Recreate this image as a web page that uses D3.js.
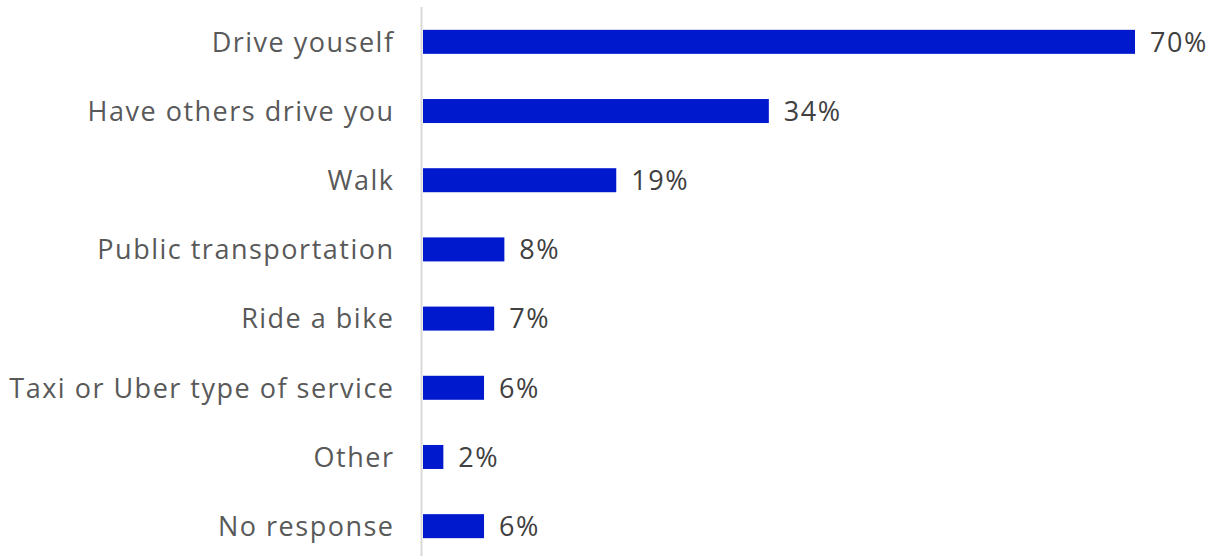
<!DOCTYPE html>
<html>
<head>
<meta charset="utf-8">
<script src="https://cdn.jsdelivr.net/npm/d3@7"></script>
<style>
  html, body { margin: 0; padding: 0; background: #fff; }
  svg { display: block; }
</style>
</head>
<body>
<svg id="chart" width="1217" height="556"></svg>
<script>
// Modes of transportation used, share of respondents (%)
const categories = [
  "Drive youself",
  "Have others drive you",
  "Walk",
  "Public transportation",
  "Ride a bike",
  "Taxi or Uber type of service",
  "Other",
  "No response"
];
const values = [70, 34, 19, 8, 7, 6, 2, 6];

const width = 1217, height = 556;

const svg = d3.select("#chart");

const x = d3.scaleLinear()
  .domain([0, 70])
  .range([423, 1135]);

const y = d3.scaleBand()
  .domain(categories)
  .range([7, 561])
  .paddingInner(0.653)
  .paddingOuter(0.33);

const data = categories.map((c, i) => ({ cat: c, val: values[i] }));

// bars
svg.append("g")
  .selectAll("rect")
  .data(data)
  .join("rect")
  .attr("x", x(0))
  .attr("y", d => y(d.cat))
  .attr("width", d => x(d.val) - x(0))
  .attr("height", y.bandwidth())
  .attr("fill", "#0019cc");

// category axis baseline
svg.append("line")
  .attr("x1", 421.5).attr("x2", 421.5)
  .attr("y1", 7).attr("y2", height)
  .attr("stroke", "#d9d9d9")
  .attr("stroke-width", 2);

const fontFamily = "'Open Sans', sans-serif";

// category labels
svg.append("g")
  .selectAll("text")
  .data(data)
  .join("text")
  .attr("x", 394.5)
  .attr("y", d => y(d.cat) + y.bandwidth() / 2)
  .attr("dy", "0.36em")
  .attr("text-anchor", "end")
  .attr("font-family", fontFamily)
  .attr("font-size", 27)
  .attr("letter-spacing", 1.5)
  .attr("fill", "#595959")
  .text(d => d.cat);

// value labels
svg.append("g")
  .selectAll("text")
  .data(data)
  .join("text")
  .attr("x", d => x(d.val) + 15)
  .attr("y", d => y(d.cat) + y.bandwidth() / 2)
  .attr("dy", "0.36em")
  .attr("font-family", fontFamily)
  .attr("font-size", 27)
  .attr("letter-spacing", 1.5)
  .attr("fill", "#404040")
  .text(d => d.val + "%");
</script>
</body>
</html>
